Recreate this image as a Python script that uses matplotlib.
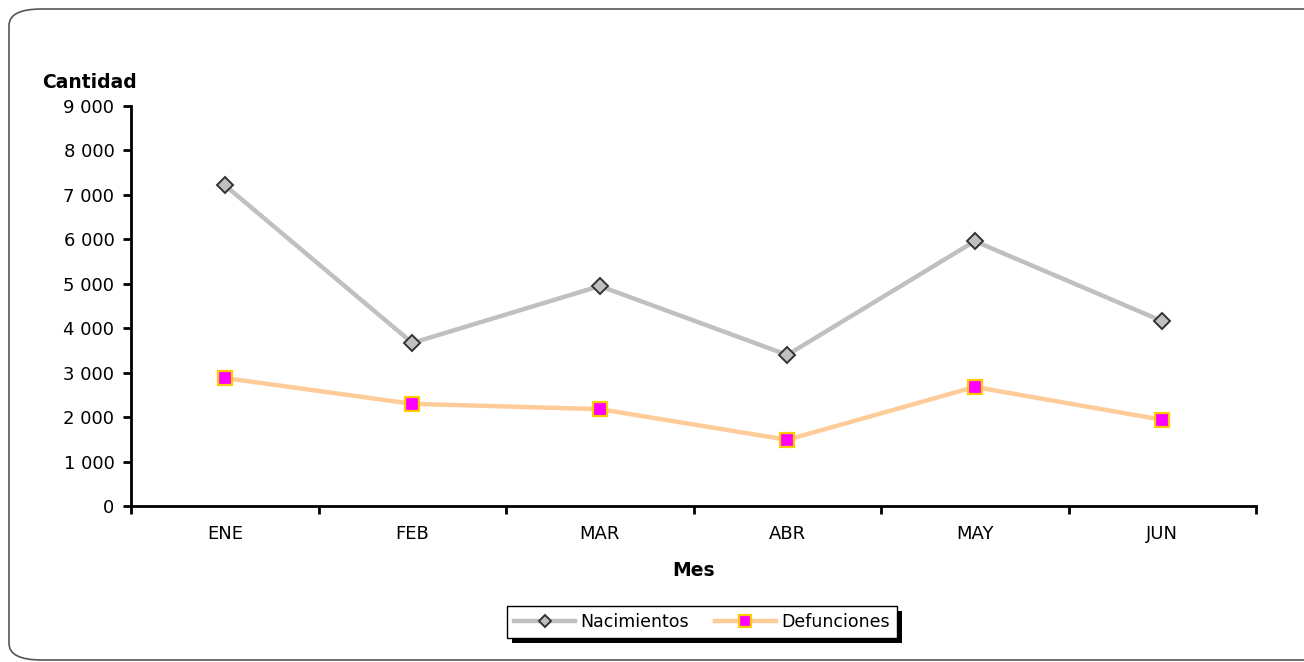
import matplotlib
matplotlib.use("Agg")
import matplotlib.pyplot as plt
from matplotlib.patches import FancyBboxPatch, Rectangle
from matplotlib.ticker import FuncFormatter, FixedLocator

# datos
meses = ["ENE", "FEB", "MAR", "ABR", "MAY", "JUN"]
nacimientos = [7220, 3670, 4950, 3400, 5960, 4160]
defunciones = [2880, 2300, 2180, 1490, 2680, 1940]

plt.rcParams["font.family"] = ["DejaVu Sans"]

fig = plt.figure(figsize=(13.04, 6.62), dpi=100)
ax = fig.add_axes([0.1005, 0.2356, 0.8627, 0.6042])

# marco redondeado de la figura
border = FancyBboxPatch((9 / 1304, 2 / 662), 1.05, 651 / 662,
                        boxstyle="round,pad=0,rounding_size=0.025",
                        transform=fig.transFigure, fill=False,
                        edgecolor="#555555", linewidth=1.2, clip_on=False)
fig.patches.append(border)

x = list(range(len(meses)))
ax.plot(x, nacimientos, color="#C0C0C0", lw=3.2, marker="D", markersize=8,
        markerfacecolor="#C0C0C0", markeredgecolor="#333333", markeredgewidth=1.4,
        label="Nacimientos")
ax.plot(x, defunciones, color="#FFCC99", lw=3.2, marker="s", markersize=10.5,
        markerfacecolor="#FF00FF", markeredgecolor="#FFCC00", markeredgewidth=1.6,
        label="Defunciones")

ax.set_xlim(-0.5, 5.5)
ax.set_ylim(0, 9000)
ax.set_yticks(range(0, 9001, 1000))
ax.yaxis.set_major_formatter(FuncFormatter(lambda v, p: f"{int(v):,}".replace(",", " ")))

# ticks del eje x en los limites de categoria, etiquetas centradas
ax.xaxis.set_major_locator(FixedLocator([i - 0.5 for i in range(len(meses) + 1)]))
ax.xaxis.set_minor_locator(FixedLocator(x))
ax.set_xticklabels([])
ax.set_xticklabels(meses, minor=True)
ax.tick_params(axis="x", which="major", direction="out", length=6, width=2)
ax.tick_params(axis="x", which="minor", length=0, pad=14, labelsize=13)
ax.tick_params(axis="y", direction="out", length=6, width=2, labelsize=13, pad=6)

for s in ["top", "right"]:
    ax.spines[s].set_visible(False)
for s in ["left", "bottom"]:
    ax.spines[s].set_linewidth(2)

fig.text(42 / 1304, 1 - 82 / 662, "Cantidad", fontsize=13.5, fontweight="bold",
         ha="left", va="center")
fig.text(694 / 1304, 1 - 571 / 662, "Mes", fontsize=13.5, fontweight="bold",
         ha="center", va="center")

leg = fig.legend(loc="center", bbox_to_anchor=(702 / 1304, 1 - 622 / 662), ncol=2,
                 fontsize=12.5, frameon=True, fancybox=False, shadow=False,
                 framealpha=1, facecolor="white", edgecolor="black",
                 handlelength=3.5, columnspacing=1.5, markerscale=0.8,
                 borderpad=0.4, handletextpad=0.3)
leg.get_frame().set_linewidth(1)
leg.set_zorder(5)

# sombra negra desplazada de la leyenda
fig.canvas.draw()
bb = leg.get_window_extent()
shadow = Rectangle((bb.x0 + 5, bb.y0 - 5), bb.width, bb.height, transform=None,
                   facecolor="black", edgecolor="none", zorder=4)
fig.patches.append(shadow)

fig.savefig("out.png", dpi=100)
